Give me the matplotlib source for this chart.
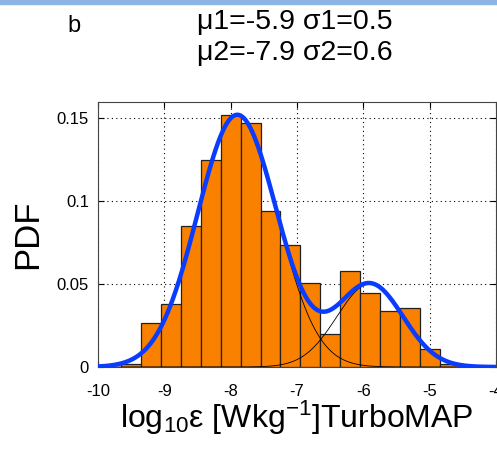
import matplotlib
matplotlib.use("Agg")
import matplotlib.pyplot as plt
import numpy as np
from matplotlib.patches import Rectangle

plt.rcParams['font.family'] = ['Liberation Sans', 'DejaVu Sans']
plt.rcParams['mathtext.fontset'] = 'custom'
plt.rcParams['mathtext.rm'] = 'Liberation Sans'
plt.rcParams['mathtext.it'] = 'Liberation Sans'
plt.rcParams['axes.unicode_minus'] = False

# histogram (fraction per bin), bin width 0.3
bin_centers = [-9.5, -9.2, -8.9, -8.6, -8.3, -8.0, -7.7, -7.4, -7.1,
               -6.8, -6.5, -6.2, -5.9, -5.6, -5.3, -5.0, -4.7]
bin_heights = [0.0018, 0.0263, 0.0377, 0.085, 0.125, 0.152, 0.147, 0.0938, 0.0736,
               0.0509, 0.0199, 0.0581, 0.0445, 0.0337, 0.0353, 0.011, 0.0016]
bin_width = 0.3

# fitted gaussian components
mu = [-5.9, -7.9]
sigma = [0.5, 0.6]
weight = [0.209, 0.762]

x_ticks = [-10, -9, -8, -7, -6, -5, -4]
y_ticks = [0, 0.05, 0.1, 0.15]
y_tick_labels = ["0", "0.05", "0.1", "0.15"]


def gauss(x, m, s, w):
    return w * bin_width * np.exp(-0.5 * ((x - m) / s) ** 2) / (s * np.sqrt(2 * np.pi))


fig = plt.figure(figsize=(4.97, 4.54), dpi=100)
fig.patches.append(Rectangle((0, 1 - 4 / 454), 1, 4 / 454, transform=fig.transFigure,
                             color="#8EB4E3", zorder=0))
ax = fig.add_axes([98 / 497, 87 / 454, 398 / 497, 265.5 / 454])

ax.bar(bin_centers, bin_heights, width=bin_width, color="#FA8000",
       edgecolor="#222222", linewidth=0.9, zorder=2)

xs = np.linspace(-10, -4, 600)
comps = [gauss(xs, m, s, w) for m, s, w in zip(mu, sigma, weight)]
for c in comps:
    ax.plot(xs, c, color="black", linewidth=0.6, zorder=3)
ax.plot(xs, comps[0] + comps[1], color="#0A3CFF", linewidth=3.2, zorder=4)

ax.set_xlim(-10, -4)
ax.set_ylim(0, 0.16)
ax.set_xticks(x_ticks)
ax.set_yticks(y_ticks)
ax.set_yticklabels(y_tick_labels)
ax.tick_params(direction="in", top=True, right=True, labelsize=12, length=4)
ax.tick_params(axis="x", pad=12)
ax.tick_params(axis="y", pad=6.5)
ax.grid(True, linestyle=(0, (1, 3)), color="black", linewidth=0.8, zorder=1)
ax.set_axisbelow(True)
for sp in ax.spines.values():
    sp.set_color("#444444")

ax.set_ylabel("PDF", fontsize=25, labelpad=9)
ax.set_xlabel(r"log$_{10}$ε [Wkg$^{-1}$]TurboMAP", fontsize=23, labelpad=0)

fig.text(74 / 497, 1 - 26 / 454, "b", fontsize=17, ha="center", va="center")
fig.text(295 / 497, 1 - 22 / 454, "μ1=-5.9 σ1=0.5", fontsize=20.5, ha="center", va="center")
fig.text(295 / 497, 1 - 53 / 454, "μ2=-7.9 σ2=0.6", fontsize=20.5, ha="center", va="center")

fig.savefig("out.png", dpi=100)
